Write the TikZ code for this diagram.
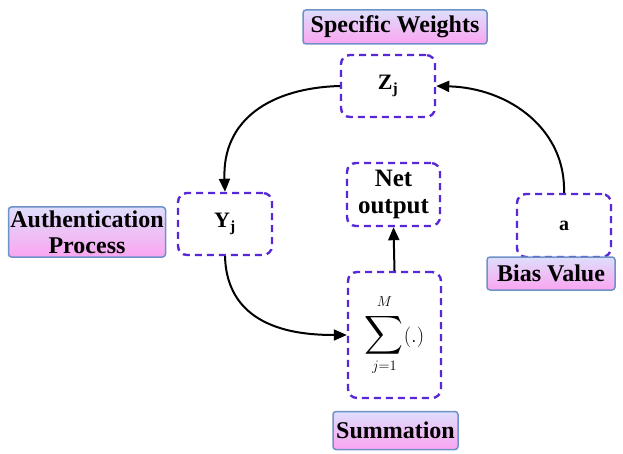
\documentclass[tikz,border=0pt]{standalone}
\usepackage{amsmath}
\usepackage{graphicx}
\usepackage{fontspec}
\setmainfont{Liberation Serif}
\usetikzlibrary{arrows.meta}
\definecolor{dashc}{RGB}{88,40,214}
\definecolor{lbltop}{RGB}{222,222,252}
\definecolor{lblbot}{RGB}{250,165,240}
\definecolor{lblbd}{RGB}{110,145,200}
\begin{document}
\begin{tikzpicture}[x=1pt,y=-1pt,
  dbox/.style={draw=dashc,line width=2.4pt,dash pattern=on 7pt off 5pt,rounded corners=9pt,align=center,font=\bfseries\fontsize{22}{24}\selectfont},
  lbl/.style={draw=lblbd,line width=1.5pt,rounded corners=3pt,top color=lbltop,bottom color=lblbot,align=center,inner sep=0pt,font=\bfseries\fontsize{24}{26}\selectfont},
  arr/.style={-{Triangle[length=13pt,width=11pt]},line width=2pt}]
\useasboundingbox (0,0) rectangle (623,454);
\node[lbl,minimum width=184pt,minimum height=34pt] (sw) at (395,27) {Specific Weights};
\node[dbox,minimum width=94pt,minimum height=62pt] (z) at (388,86) {Z$_{\mathbf{j}}$};
\node[dbox,minimum width=94pt,minimum height=62pt] (y) at (225,224) {Y$_{\mathbf{j}}$};
\node[lbl,minimum width=157pt,minimum height=50pt] (ap) at (87,232) {Authentication\\Process};
\node[dbox,minimum width=93pt,minimum height=63pt,font=\bfseries\fontsize{25}{27}\selectfont,inner sep=0pt] (net) at (393.5,194.5) {Net\\output};
\node[dbox,minimum width=93pt,minimum height=126pt,font=\fontsize{20}{24}\selectfont] (sum) at (394.5,335) {\raisebox{10pt}{$\displaystyle\mathop{\scalebox{1.3}{$\displaystyle\sum$}}\limits_{j=1}^{\raisebox{3pt}{$\scriptstyle M$}}\!\mathbf{(.)}$}};
\node[dbox,minimum width=94pt,minimum height=63pt,font=\bfseries\fontsize{20}{22}\selectfont] (a) at (564,225.5) {a};
\node[lbl,minimum width=128pt,minimum height=33pt] (bv) at (551,273.5) {Bias Value};
\node[lbl,minimum width=125pt,minimum height=38pt] (su) at (395.5,430.5) {Summation};
\draw[arr] (z.west) .. controls (270,88) and (222,120) .. (y.north);
\draw[arr] (a.north) .. controls (566,130) and (510,88) .. (z.east);
\draw[arr] (y.south) .. controls (227,330) and (300,335) .. (sum.west);
\draw[arr] (sum.north) -- (net.south);
\end{tikzpicture}
\end{document}
